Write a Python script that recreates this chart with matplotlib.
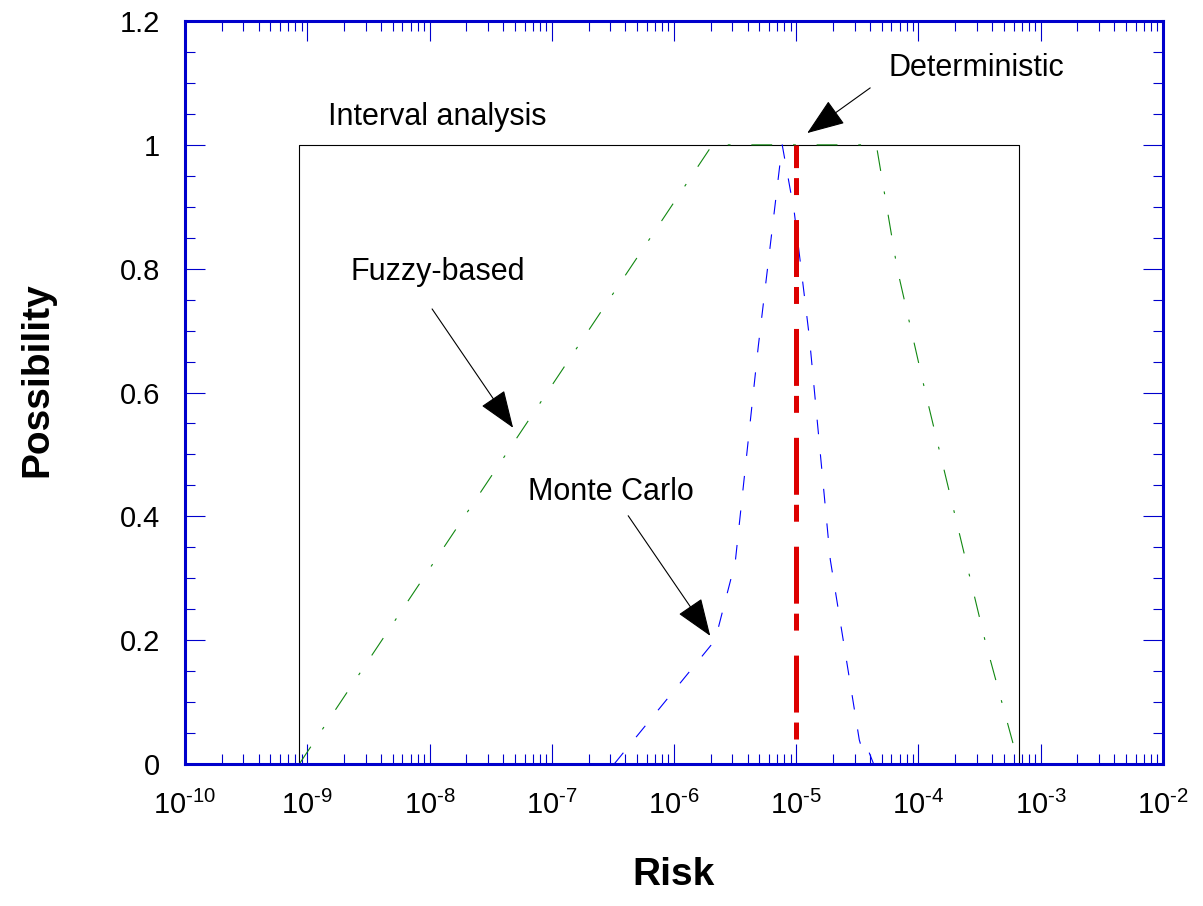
import matplotlib
matplotlib.use("Agg")
import numpy as np
import matplotlib.pyplot as plt
from matplotlib.ticker import LogLocator, MultipleLocator, FormatStrFormatter, FuncFormatter

plt.rcParams['font.family'] = ['Liberation Sans', 'DejaVu Sans']
plt.rcParams['axes.unicode_minus'] = False
plt.rcParams['lines.scale_dashes'] = False
plt.rcParams['mathtext.fontset'] = 'custom'
plt.rcParams['mathtext.rm'] = 'Liberation Sans'
plt.rcParams['mathtext.it'] = 'Liberation Sans:italic'
plt.rcParams['mathtext.bf'] = 'Liberation Sans:bold'

# interval analysis (rectangle)
interval_x = [8.6e-10, 8.6e-10, 6.6e-4, 6.6e-4]
interval_y = [0, 1, 1, 0]

# fuzzy-based (trapezoid)
fuzzy_x = [8.6e-10, 2.06e-6, 4.52e-5, 6.7e-5, 1.14e-4, 2.0e-4, 3.5e-4, 6.6e-4]
fuzzy_y = [0, 1, 1, 0.8, 0.6, 0.4, 0.2, 0]

# monte carlo
mc_x = [3.24e-7, 2.17e-6, 3.17e-6, 4.89e-6, 7.68e-6, 9.63e-6, 1.28e-5,
        1.9e-5, 3.28e-5, 3.5e-5, 3.8e-5, 4.3e-5]
mc_y = [0, 0.2, 0.326, 0.674, 1.0, 0.892, 0.69, 0.33, 0.039, 0.02, 0.027, 0]

# deterministic
det_x = [1e-5, 1e-5]
det_y = [0, 1]


def pow10(v, pos):
    n = int(round(np.log10(v)))
    if n < 0:
        return r'$\mathregular{10^{\text{-}%d}}$' % (-n)
    return r'$\mathregular{10^{%d}}$' % n


fig = plt.figure(figsize=(12.03, 9.06), dpi=100)
ax = fig.add_axes([0.1538, 0.1567, 0.8129, 0.8201])

ax.plot(interval_x, interval_y, color='black', lw=0.8)
ax.plot(fuzzy_x, fuzzy_y, color='#118811', lw=0.8,
        linestyle=(0, (15, 15, 2, 15)))
ax.plot(mc_x, mc_y, color='#0000ff', lw=0.8, linestyle=(0, (10.5, 14.5)))
ax.plot(det_x, det_y, color='#dd0000', lw=3.6,
        linestyle=(41, (41, 18, 12.2, 7.2)))

ax.set_xscale('log')
ax.set_xlim(1e-10, 1e-2)
ax.set_ylim(0, 1.2)

ax.xaxis.set_major_locator(LogLocator(base=10, numticks=20))
ax.xaxis.set_minor_locator(LogLocator(base=10, subs=range(2, 10), numticks=20))
ax.xaxis.set_major_formatter(FuncFormatter(pow10))
ax.yaxis.set_major_locator(MultipleLocator(0.2))
ax.yaxis.set_minor_locator(MultipleLocator(0.05))
ax.yaxis.set_major_formatter(FormatStrFormatter('%g'))

blue = '#0000cc'
for s in ax.spines.values():
    s.set_color(blue)
    s.set_linewidth(2.2)
ax.tick_params(which='both', direction='in', top=True, right=True,
               color=blue, width=0.8, labelsize=21)
ax.tick_params(which='major', length=14.4)
ax.tick_params(which='minor', length=7.2)
ax.tick_params(axis='x', which='major', pad=19)
ax.tick_params(axis='y', which='major', pad=18)

ax.set_xlabel('Risk', fontsize=28, fontweight='bold')
ax.set_ylabel('Possibility', fontsize=28, fontweight='bold')
ax.xaxis.set_label_coords(0.5, -0.125)
ax.yaxis.set_label_coords(-0.133, 0.518)

# labels and arrows
ax.text(1.48e-9, 1.045, 'Interval analysis', fontsize=22, va='center')
ax.text(5.66e-5, 1.124, 'Deterministic', fontsize=22, va='center')
ax.text(2.24e-9, 0.795, 'Fuzzy-based', fontsize=22, va='center')
ax.text(6.41e-8, 0.439, 'Monte Carlo', fontsize=22, va='center')

arrow = dict(arrowstyle='-|>,head_length=1.2,head_width=0.45',
             color='black', lw=0.8, shrinkA=0, shrinkB=0, mutation_scale=20)
ax.annotate('', xy=(1.23e-5, 1.019), xytext=(4.03e-5, 1.092), arrowprops=arrow)
ax.annotate('', xy=(4.83e-8, 0.543), xytext=(1.05e-8, 0.735), arrowprops=arrow)
ax.annotate('', xy=(1.98e-6, 0.207), xytext=(4.22e-7, 0.401), arrowprops=arrow)

fig.savefig('out.png', dpi=100)
